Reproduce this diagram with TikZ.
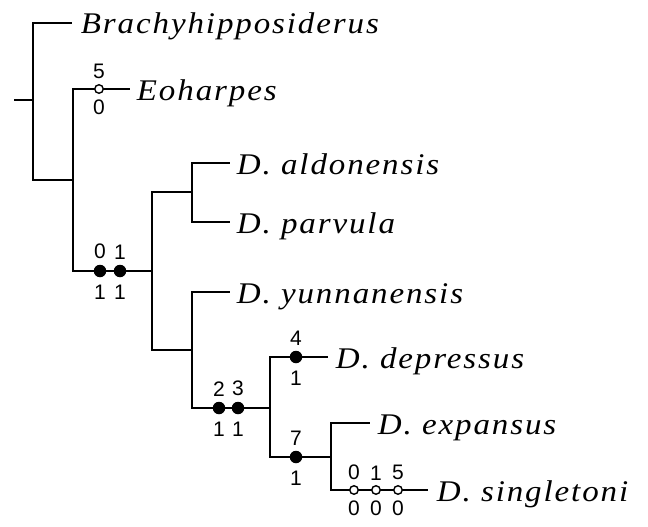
\documentclass[tikz,border=0pt]{standalone}
\usepackage{fontspec}
\setmainfont{Liberation Serif}
\setsansfont{Liberation Sans}
\newfontfamily\taxfont[LetterSpace=6.3,FakeStretch=1.1]{Liberation Serif}
\newfontfamily\chrfont{Liberation Sans}
\begin{document}
\begin{tikzpicture}[x=1pt,y=-1pt, line width=1.9pt,
 taxon/.style={anchor=base west, font=\taxfont\itshape\fontsize{30}{31}\selectfont, inner sep=0pt},
 chrup/.style={anchor=south, font=\chrfont\fontsize{21}{21}\selectfont, inner sep=0pt},
 chrdn/.style={anchor=north, font=\chrfont\fontsize{21}{21}\selectfont, inner sep=0pt},
 fillc/.style={circle, fill=black, minimum size=12.5pt, inner sep=0pt},
 openc/.style={circle, draw=black, fill=white, line width=1.4pt, minimum size=8.5pt, inner sep=0pt}]
\useasboundingbox (0,0) rectangle (648,527);
% internal nodes and tips
\coordinate (r0) at (14,100);
\coordinate (n1) at (33,100);
\coordinate (eBr) at (72,23);
\coordinate (n2) at (73,180);
\coordinate (eEo) at (130,89);
\coordinate (n3) at (152,271);
\coordinate (n4) at (192,192);
\coordinate (eAl) at (230,163);
\coordinate (ePa) at (230,222);
\coordinate (n5) at (192,350);
\coordinate (eYu) at (230,292);
\coordinate (n6) at (270,408);
\coordinate (eDe) at (328,357);
\coordinate (n7) at (331,457);
\coordinate (eEx) at (370,423);
\coordinate (eSi) at (428,490);
% branches
\draw (r0) -- (n1);
\draw (n1) |- (eBr);
\draw (n1) |- (n2);
\draw (n2) |- (eEo);
\draw (n2) |- (n3);
\draw (n3) |- (n4);
\draw (n3) |- (n5);
\draw (n4) |- (eAl);
\draw (n4) |- (ePa);
\draw (n5) |- (eYu);
\draw (n5) |- (n6);
\draw (n6) |- (eDe);
\draw (n6) |- (n7);
\draw (n7) |- (eEx);
\draw (n7) |- (eSi);
% character state marks
\node[openc] (c5) at (99,89) {};
\node[fillc] (ca0) at (100,271) {};
\node[fillc] (ca1) at (120,271) {};
\node[fillc] (cb2) at (219,408) {};
\node[fillc] (cb3) at (238,408) {};
\node[fillc] (cc4) at (296,357) {};
\node[fillc] (cd7) at (296,457) {};
\node[openc] (cs0) at (354,490) {};
\node[openc] (cs1) at (376,490) {};
\node[openc] (cs5) at (398,490) {};
% character numbers (above) and states (below)
\node[chrup] (u5) at (99,80) {5};   \node[chrdn] (d5) at (99,99) {0};
\node[chrup] (ua0) at (100,260) {0}; \node[chrdn] (da0) at (100,284) {1};
\node[chrup] (ua1) at (120,260) {1}; \node[chrdn] (da1) at (120,284) {1};
\node[chrup] (ub2) at (219,397) {2}; \node[chrdn] (db2) at (219,421) {1};
\node[chrup] (ub3) at (238,397) {3}; \node[chrdn] (db3) at (238,421) {1};
\node[chrup] (uc4) at (296,346) {4}; \node[chrdn] (dc4) at (296,370) {1};
\node[chrup] (ud7) at (296,446) {7}; \node[chrdn] (dd7) at (296,470) {1};
\node[chrup] (us0) at (354,481) {0}; \node[chrdn] (ds0) at (354,500) {0};
\node[chrup] (us1) at (376,481) {1}; \node[chrdn] (ds1) at (376,500) {0};
\node[chrup] (us5) at (398,481) {5}; \node[chrdn] (ds5) at (398,500) {0};
% taxa
\node[taxon] (tBr) at (80,34) {Brachyhipposiderus};
\node[taxon] (tEo) at (136,100) {Eoharpes};
\node[taxon] (tAl) at (236,174) {D. aldonensis};
\node[taxon] (tPa) at (236,233) {D. parvula};
\node[taxon] (tYu) at (236,303) {D. yunnanensis};
\node[taxon] (tDe) at (335,368) {D. depressus};
\node[taxon] (tEx) at (377,434) {D. expansus};
\node[taxon] (tSi) at (436,501) {D. singletoni};
\end{tikzpicture}
\end{document}
